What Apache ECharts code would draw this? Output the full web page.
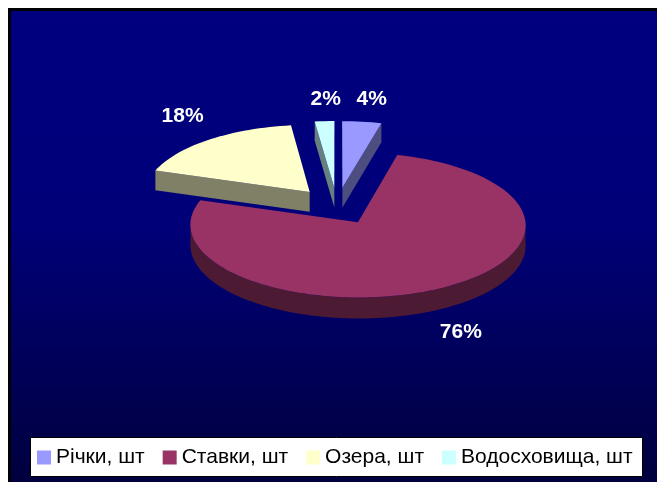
<!DOCTYPE html>
<html>
<head>
<meta charset="utf-8">
<script src="https://cdn.jsdelivr.net/npm/echarts@6/dist/echarts.min.js"></script>
<style>
  html, body { margin: 0; padding: 0; background: #fff; overflow: hidden; }
  #myChart { width: 657px; height: 482px; }
</style>
</head>
<body>
<div id="myChart"></div>
<script>
// дані
const categories = ['Річки, шт', 'Ставки, шт', 'Озера, шт', 'Водосховища, шт'];
const shares = [4, 76, 18, 2];
const topColors = ['#9999FF', '#993366', '#FFFFCC', '#CCFFFF'];
const sideColors = ['#4D4D80', '#4D1A33', '#808066', '#668080'];

// геометрія об'ємного пирога
const cx = 337, cy = 206, rx = 166, ry = 71, depth = 20, persp = 0.04, explode = 0.26;

const total = shares.reduce((a, b) => a + b, 0);
let acc = 0;
const slices = shares.map((v) => {
  const a0 = acc / total * Math.PI * 2;
  acc += v;
  const a1 = acc / total * Math.PI * 2;
  const mid = (a0 + a1) / 2;
  return {a0, a1, mid, ex: explode * Math.sin(mid), ez: -explode * Math.cos(mid)};
});
// порядок малювання: від дальніх до ближніх
const order = slices.map((s, i) => i).sort((a, b) => slices[a].ez - slices[b].ez);

function proj(X, Z, down) {
  const s = 1 + persp * Z;
  return [cx + X * rx * s, cy + Z * ry * s + (down ? depth * s : 0)];
}
function rim(sl, t, down) {
  return proj(sl.ex + Math.sin(t), sl.ez - Math.cos(t), down);
}
function arc(sl, from, to, down) {
  const pts = [];
  const n = Math.max(2, Math.ceil((to - from) / (Math.PI / 90)));
  for (let k = 0; k <= n; k++) pts.push(rim(sl, from + (to - from) * k / n, down));
  return pts;
}

function renderSlice(i) {
  const sl = slices[i];
  const rank = order.indexOf(i) * 10;
  const apexTop = proj(sl.ex, sl.ez, false);
  const apexBot = proj(sl.ex, sl.ez, true);
  const children = [];
  const side = {fill: sideColors[i]};

  // радіальні грані
  if (Math.sin(sl.a0) < -1e-6) {
    children.push({type: 'polygon', z2: rank + 1, shape: {points: [apexTop, rim(sl, sl.a0, false), rim(sl, sl.a0, true), apexBot]}, style: side});
  }
  if (Math.sin(sl.a1) > 1e-6) {
    children.push({type: 'polygon', z2: rank + 1, shape: {points: [apexTop, rim(sl, sl.a1, false), rim(sl, sl.a1, true), apexBot]}, style: side});
  }
  // бічна поверхня спереду
  const lo = Math.max(sl.a0, Math.PI / 2), hi = Math.min(sl.a1, Math.PI * 1.5);
  if (hi > lo) {
    const pts = arc(sl, lo, hi, false).concat(arc(sl, lo, hi, true).reverse());
    children.push({type: 'polygon', z2: rank + 2, shape: {points: pts}, style: side});
  }
  // верх
  children.push({type: 'polygon', z2: rank + 5, shape: {points: [apexTop].concat(arc(sl, sl.a0, sl.a1, false))}, style: {fill: topColors[i]}});

  // підпис
  const c = Math.cos(sl.mid), s = Math.sin(sl.mid);
  const front = -c > 0;
  const anchor = rim(sl, sl.mid, front);
  children.push({
    type: 'text', z2: 200,
    x: anchor[0] + s * 46 + c * 4,
    y: anchor[1] - c * 22 - Math.sign(c) * (1 - Math.abs(c)) * 30,
    style: {
      text: Math.round(shares[i] / total * 100) + '%',
      fill: '#fff', font: 'bold 21px "Liberation Sans", Arial, sans-serif',
      align: 'center', verticalAlign: 'middle'
    }
  });
  return {type: 'group', children};
}

const option = {
  animation: false,
  color: topColors,
  graphic: [
    {
      type: 'rect', z: -10,
      shape: {x: 9.5, y: 9.5, width: 660, height: 480},
      style: {
        fill: {type: 'linear', x: 0, y: 0, x2: 0, y2: 1, colorStops: [
          {offset: 0, color: '#000080'}, {offset: 0.45, color: '#000078'}, {offset: 1, color: '#00003C'}]},
        stroke: '#000', lineWidth: 3
      }
    },
    {
      type: 'rect', z: -5,
      shape: {x: 30.5, y: 437.5, width: 612, height: 39},
      style: {fill: '#fff', stroke: '#000', lineWidth: 1}
    }
  ],
  legend: {
    left: 37, top: 447, padding: 0,
    itemWidth: 14, itemHeight: 14, itemGap: 18,
    icon: 'rect',
    data: categories,
    textStyle: {fontFamily: '"Liberation Sans", Arial, sans-serif', fontSize: 21, color: '#000'}
  },
  series: categories.map((name, i) => ({
    type: 'custom',
    name: name,
    coordinateSystem: 'none',
    data: [[shares[i]]],
    itemStyle: {color: topColors[i]},
    renderItem: () => renderSlice(i)
  }))
};

const myChart = echarts.init(document.getElementById('myChart'));
myChart.setOption(option);
</script>
</body>
</html>
